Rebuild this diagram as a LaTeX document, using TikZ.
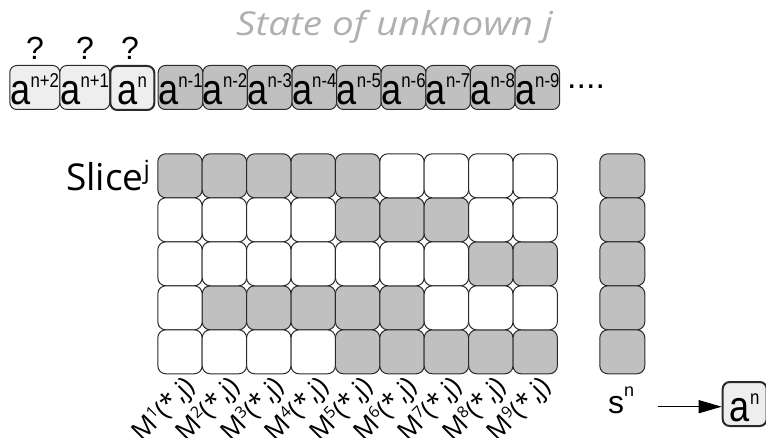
\documentclass[tikz,border=0pt]{standalone}
\usepackage{fontspec}
\usetikzlibrary{arrows.meta}
\newfontfamily\arialf{Liberation Sans}
\newfontfamily\ubuf{Open Sans}
\definecolor{cellgrey}{HTML}{C0C0C0}
\definecolor{lightbox}{HTML}{EEEEEE}
\definecolor{titlegrey}{HTML}{B0B0B0}
\definecolor{edge}{HTML}{2A2A2A}
\newcommand{\myraise}[3]{\raisebox{#1}{\fontsize{#2}{#2}\selectfont #3}}
\begin{document}
\begin{tikzpicture}[x=1pt,y=-1pt,
  cell/.style={draw=edge, line width=1pt, rounded corners=8pt, minimum width=44.4pt,
    minimum height=44pt, inner sep=0pt, anchor=north west},
  greycell/.style={cell, fill=cellgrey},
  whitecell/.style={cell, fill=white},
  topbox/.style={draw=edge, line width=1pt, rounded corners=7pt, minimum height=44pt,
    inner sep=0pt, text height=39pt, text depth=5pt, anchor=north west,
    font=\arialf\fontsize{43}{43}\selectfont},
  mlabel/.style={rotate=45, anchor=east, inner sep=0pt, font=\ubuf\fontsize{26}{26}\selectfont},
  qmark/.style={anchor=base, inner sep=0pt, font=\arialf\fontsize{32}{32}\selectfont}
]
\useasboundingbox (0,0) rectangle (766,438);

% title
\node[anchor=base west, inner sep=0pt, text=titlegrey, font=\ubuf\itshape\fontsize{33}{33}\selectfont] (title) at (236,36) {\scalebox{1.17}[1]{State of unknown j}};

% question marks
\node[qmark] (q1) at (35,60) {?};
\node[qmark] (q2) at (85,60) {?};
\node[qmark] (q3) at (130,60) {?};

% top row of actions
\node[topbox, fill=lightbox, minimum width=50pt] (t1) at (9.3,65) {\scalebox{0.84}[1]{a\myraise{17pt}{20}{n+2}}};
\node[topbox, fill=lightbox, minimum width=50pt] (t2) at (59.3,65) {\scalebox{0.84}[1]{a\myraise{17pt}{20}{n+1}}};
\node[topbox, fill=lightbox, minimum width=44pt, line width=2pt] (t3) at (109.3,65) {\scalebox{0.84}[1]{a\myraise{17pt}{20}{n}}};
\foreach \k in {1,...,9} {
  \node[topbox, fill=cellgrey, minimum width=44.6pt] (g\k) at ({157.7+(\k-1)*44.6},65) {\scalebox{0.84}[1]{a\myraise{17pt}{20}{n-\k}}};
}
\node[anchor=base west, inner sep=0pt, font=\arialf\fontsize{34}{34}\selectfont] (dots) at (567,89) {....};

% Slice label
\node[anchor=base west, inner sep=0pt, font=\ubuf\fontsize{37}{37}\selectfont] (slice) at (66,191) {Slice\myraise{12pt}{25}{j}};

% grid
\foreach \c/\r in {1/1,2/1,3/1,4/1,5/1,5/2,6/2,7/2,8/3,9/3,2/4,3/4,4/4,5/4,6/4,5/5,6/5,7/5,8/5,9/5} {
  \node[greycell] (c\c-\r) at ({157.3+(\c-1)*44.4},{153.3+(\r-1)*44}) {};
}
\foreach \c/\r in {6/1,7/1,8/1,9/1,1/2,2/2,3/2,4/2,8/2,9/2,1/3,2/3,3/3,4/3,5/3,6/3,7/3,1/4,7/4,8/4,9/4,1/5,2/5,3/5,4/5} {
  \node[whitecell] (c\c-\r) at ({157.3+(\c-1)*44.4},{153.3+(\r-1)*44}) {};
}
% state column
\foreach \r in {1,...,5} {
  \node[greycell, minimum width=45pt] (s\r) at (599.3,{153.3+(\r-1)*44}) {};
}

% column labels
\foreach \c in {1,...,9} {
  \node[mlabel] (m\c) at ({179.5+(\c-1)*44.4+12},383) {M\myraise{9pt}{16}{\c}(*\kern1pt,j)};
}

% s^n and arrow
\node[anchor=base west, inner sep=0pt, font=\arialf\fontsize{32}{32}\selectfont] (sn) at (608,413.3) {s\myraise{16.6pt}{18}{n}};
\node[topbox, fill=lightbox, minimum width=44pt, line width=2pt] (an) at (721.7,381) {\scalebox{0.84}[1]{a\myraise{17pt}{20}{n}}};
\coordinate (arrs) at (657.7,406.7);
\draw[line width=1.3pt, -{Triangle[length=23pt,width=13pt]}] (arrs) -- (arrs -| an.west);
\end{tikzpicture}
\end{document}
